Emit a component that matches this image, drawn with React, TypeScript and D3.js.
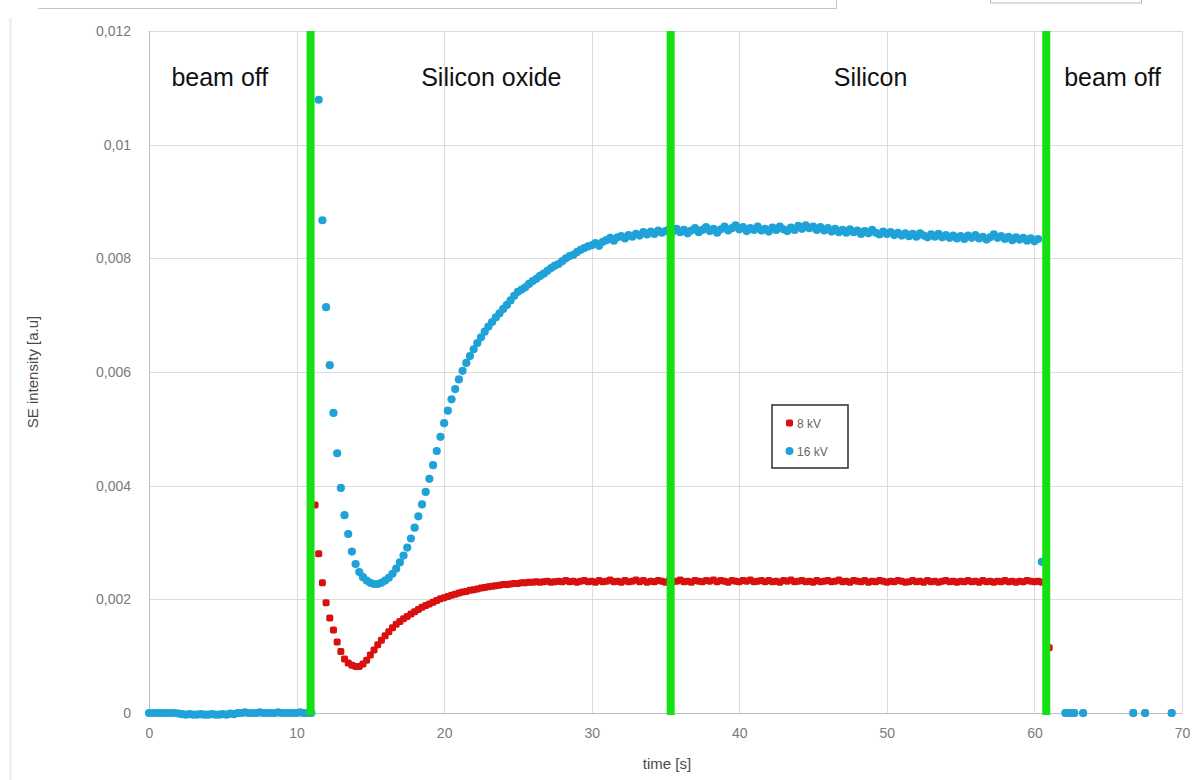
import React, { useEffect, useRef } from 'react';
import * as d3 from 'd3';

// samples every 0.25 s, starting at t = 0
const SAMPLE_STEP = 0.25;

// 16 kV series (SE intensity, a.u.), 8 samples per row = 2 s per row
const kv16: (number | null)[] = [
  0, 0, 0, 0, 0, 0, 0, 0, // 0
  -0.00001, -0.00002, -0.00003, -0.00002, -0.00003, -0.00003, -0.00002, -0.00003, // 2
  -0.00003, -0.00002, -0.00003, -0.00003, -0.00002, -0.00003, -0.00001, -0.00002, // 4
  0, 0, 0.00001, 0, 0, 0, 0.00001, 0, // 6
  0, 0, 0, 0.00001, 0, 0, 0, 0, // 8
  0, 0.00001, 0, 0, 0, null, 0.01079, 0.00867, // 10
  0.00714, 0.00612, 0.00528, 0.00457, 0.00396, 0.00348, 0.00315, 0.00284, // 12
  0.00262, 0.00248, 0.00239, 0.00233, 0.00229, 0.00227, 0.00227, 0.00229, // 14
  0.00233, 0.00238, 0.00245, 0.00254, 0.00265, 0.00277, 0.00291, 0.00307, // 16
  0.00326, 0.00346, 0.00367, 0.00389, 0.00412, 0.00436, 0.00461, 0.00486, // 18
  0.0051, 0.00532, 0.00552, 0.0057, 0.00587, 0.00602, 0.00616, 0.00628, // 20
  0.0064, 0.00651, 0.00661, 0.00671, 0.0068, 0.00688, 0.00696, 0.00703, // 22
  0.00711, 0.00718, 0.00726, 0.00734, 0.00741, 0.00745, 0.00749, 0.00755, // 24
  0.0076, 0.00764, 0.00769, 0.00773, 0.00778, 0.00783, 0.00787, 0.0079, // 26
  0.00795, 0.008, 0.00804, 0.00806, 0.00811, 0.00815, 0.00818, 0.00821, // 28
  0.00823, 0.00827, 0.00822, 0.00829, 0.00832, 0.00836, 0.00831, 0.00837, // 30
  0.00839, 0.00835, 0.00841, 0.00838, 0.00843, 0.0084, 0.00846, 0.00842, // 32
  0.00847, 0.00843, 0.00849, 0.00845, 0.00848, 0.00851, 0.00847, 0.00852, // 34
  0.00846, 0.0085, 0.00844, 0.00849, 0.00853, 0.00846, 0.0085, 0.00855, // 36
  0.00848, 0.00852, 0.00845, 0.00851, 0.00856, 0.00849, 0.00853, 0.00858, // 38
  0.00851, 0.00855, 0.00848, 0.00853, 0.0085, 0.00856, 0.00849, 0.00852, // 40
  0.00847, 0.00854, 0.0085, 0.00856, 0.00851, 0.00848, 0.00854, 0.0085, // 42
  0.00857, 0.00852, 0.00858, 0.00853, 0.00856, 0.0085, 0.00855, 0.00849, // 44
  0.00853, 0.00847, 0.00852, 0.00846, 0.0085, 0.00845, 0.00851, 0.00846, // 46
  0.00849, 0.00843, 0.00848, 0.00844, 0.0085, 0.00845, 0.00842, 0.00847, // 48
  0.00843, 0.00846, 0.00841, 0.00845, 0.0084, 0.00844, 0.00839, 0.00843, // 50
  0.00838, 0.00844, 0.0084, 0.00837, 0.00842, 0.00838, 0.00843, 0.00837, // 52
  0.00841, 0.00836, 0.0084, 0.00835, 0.00839, 0.00834, 0.0084, 0.00836, // 54
  0.00841, 0.00835, 0.00838, 0.00833, 0.00837, 0.00842, 0.00836, 0.00839, // 56
  0.00834, 0.00838, 0.00832, 0.00837, 0.00833, 0.00836, 0.00831, 0.00835, // 58
  0.0083, 0.00834, 0.00266, null, // 60
];

// 8 kV series, same sampling (nothing visible while the beam is off)
const kv8: (number | null)[] = [
  null, null, null, null, null, null, null, null, // 0
  null, null, null, null, null, null, null, null, // 2
  null, null, null, null, null, null, null, null, // 4
  null, null, null, null, null, null, null, null, // 6
  null, null, null, null, null, null, null, null, // 8
  null, null, null, null, null, 0.00366, 0.0028, 0.00229, // 10
  0.00194, 0.00167, 0.00146, 0.00125, 0.00108, 0.00095, 0.00088, 0.00084, // 12
  0.00082, 0.00082, 0.00086, 0.00093, 0.00102, 0.00111, 0.0012, 0.00128, // 14
  0.00136, 0.00143, 0.0015, 0.00156, 0.00161, 0.00166, 0.0017, 0.00174, // 16
  0.00178, 0.00182, 0.00186, 0.00189, 0.00192, 0.00195, 0.00198, 0.00201, // 18
  0.00203, 0.00205, 0.00207, 0.00209, 0.00211, 0.00213, 0.00214, 0.00216, // 20
  0.00217, 0.00218, 0.0022, 0.00221, 0.00222, 0.00223, 0.00224, 0.00225, // 22
  0.00226, 0.00226, 0.00227, 0.00228, 0.00228, 0.00229, 0.00229, 0.0023, // 24
  0.0023, 0.00231, 0.0023, 0.00231, 0.00232, 0.0023, 0.00231, 0.00232, // 26
  0.00231, 0.00233, 0.00231, 0.00232, 0.0023, 0.00232, 0.00233, 0.00231, // 28
  0.00232, 0.0023, 0.00233, 0.00231, 0.00232, 0.00234, 0.00231, 0.00232, // 30
  0.0023, 0.00233, 0.00231, 0.00232, 0.00234, 0.00231, 0.00233, 0.0023, // 32
  0.00232, 0.00231, 0.00233, 0.00232, 0.0023, 0.00233, 0.00231, 0.00232, // 34
  0.00234, 0.00231, 0.00232, 0.0023, 0.00233, 0.00232, 0.00231, 0.00233, // 36
  0.00232, 0.00234, 0.00231, 0.00233, 0.00232, 0.0023, 0.00233, 0.00232, // 38
  0.00231, 0.00233, 0.00232, 0.00234, 0.00231, 0.00232, 0.00233, 0.00231, // 40
  0.00233, 0.00231, 0.00232, 0.0023, 0.00233, 0.00232, 0.00234, 0.00231, // 42
  0.00232, 0.00233, 0.00231, 0.00232, 0.0023, 0.00233, 0.00231, 0.00232, // 44
  0.00233, 0.00231, 0.00232, 0.00234, 0.00231, 0.00232, 0.0023, 0.00233, // 46
  0.00232, 0.00231, 0.00233, 0.0023, 0.00232, 0.00231, 0.00233, 0.00232, // 48
  0.0023, 0.00232, 0.00231, 0.00233, 0.00232, 0.0023, 0.00231, 0.00233, // 50
  0.00231, 0.00232, 0.0023, 0.00233, 0.00231, 0.00232, 0.0023, 0.00232, // 52
  0.00233, 0.00231, 0.00232, 0.0023, 0.00232, 0.00231, 0.00233, 0.00231, // 54
  0.00232, 0.0023, 0.00233, 0.00231, 0.00232, 0.0023, 0.00232, 0.00231, // 56
  0.00233, 0.00231, 0.00232, 0.0023, 0.00232, 0.00231, 0.00233, 0.00232, // 58
  0.00231, 0.00232, 0.0023, null, 0.00115, // 60
];

// sparse points recorded after the beam was switched off again
const tailTimes = [62.1, 62.4, 62.7, 63.3, 66.7, 67.5, 69.3];
const tail16 = [0, 0, 0, 0, 0, 0, 0];
const tail8 = [0, 0, 0, 0, 0, 0, 0];

const boundaries = [10.95, 35.35, 60.8];
const regionNames = ['beam off', 'Silicon oxide', 'Silicon', 'beam off'];
const regionCenters = [4.8, 23.2, 48.9, 65.3];

const xTicks = [0, 10, 20, 30, 40, 50, 60, 70];
const yTicks = [0, 0.002, 0.004, 0.006, 0.008, 0.01, 0.012];
const seriesNames = ['8 kV', '16 kV'];

const RED = '#d81010';
const CYAN = '#1fa2d8';
const GREEN = '#14e014';

type Pt = { t: number; v: number };

const toPoints = (vals: (number | null)[], tt: number[], tv: number[]): Pt[] => {
  const pts: Pt[] = [];
  vals.forEach((v, i) => {
    if (v != null) pts.push({ t: i * SAMPLE_STEP, v });
  });
  tt.forEach((t, i) => pts.push({ t, v: tv[i] }));
  return pts;
};

const fmtY = (d: number) => (d === 0 ? '0' : String(+d.toFixed(3)).replace('.', ','));

const App: React.FC = () => {
  const svgRef = useRef<SVGSVGElement | null>(null);

  useEffect(() => {
    const svgEl = svgRef.current;
    if (!svgEl) return;
    const width = 1197;
    const height = 780;
    const margin = { top: 31, right: 15, bottom: 67, left: 149 };

    const x = d3.scaleLinear().domain([0, 70]).range([margin.left, width - margin.right]);
    const y = d3.scaleLinear().domain([0, 0.012]).range([height - margin.bottom, margin.top]);

    const svg = d3.select(svgEl).attr('width', width).attr('height', height);
    svg.selectAll('*').remove();
    const font = '"Liberation Sans", Arial, sans-serif';

    svg.append('rect').attr('width', width).attr('height', height).attr('fill', '#fff');

    // bits of the host window at the top
    svg.append('path').attr('d', 'M38,8.5H836.5V0').attr('fill', 'none').attr('stroke', '#c4c4c4');
    svg.append('rect').attr('x', 990.5).attr('y', -1).attr('width', 151).attr('height', 4)
      .attr('fill', 'none').attr('stroke', '#b8b8b8');
    svg.append('line').attr('x1', 10.5).attr('x2', 10.5).attr('y1', 18).attr('y2', 780)
      .attr('stroke', '#f0f0f0').attr('stroke-width', 3);

    // gridlines
    const grid = svg.append('g');
    grid.selectAll('line.h')
      .data(yTicks.filter((d) => d > 0))
      .join('line')
      .attr('x1', x(0)).attr('x2', x(70))
      .attr('y1', (d) => Math.round(y(d)) + 0.5).attr('y2', (d) => Math.round(y(d)) + 0.5)
      .attr('stroke', '#dcdcdc');
    grid.selectAll('line.v')
      .data(xTicks.filter((d) => d > 0))
      .join('line')
      .attr('x1', (d) => Math.round(x(d)) + 0.5).attr('x2', (d) => Math.round(x(d)) + 0.5)
      .attr('y1', y(0.012)).attr('y2', y(0))
      .attr('stroke', '#dcdcdc');

    // axis lines
    svg.append('line').attr('x1', x(0) + 0.5).attr('x2', x(0) + 0.5)
      .attr('y1', y(0.012)).attr('y2', y(0)).attr('stroke', '#bfbfbf');
    svg.append('line').attr('x1', x(0)).attr('x2', x(70))
      .attr('y1', Math.round(y(0)) + 0.5).attr('y2', Math.round(y(0)) + 0.5).attr('stroke', '#bfbfbf');

    // tick labels
    svg.append('g')
      .attr('transform', `translate(${x(0)},0)`)
      .call(d3.axisLeft(y).tickValues(yTicks).tickSize(0).tickPadding(18).tickFormat((d) => fmtY(+d)))
      .call((g) => g.select('.domain').remove())
      .call((g) => g.selectAll('text').attr('fill', '#7a7a7a').attr('font-size', 14).attr('font-family', font));
    svg.append('g')
      .attr('transform', `translate(0,${y(0)})`)
      .call(d3.axisBottom(x).tickValues(xTicks).tickSize(0).tickPadding(15).tickFormat((d) => String(d)))
      .call((g) => g.select('.domain').remove())
      .call((g) => g.selectAll('text').attr('fill', '#7a7a7a').attr('font-size', 14).attr('font-family', font));

    // axis titles
    svg.append('text')
      .attr('x', 667).attr('y', 769)
      .attr('text-anchor', 'middle')
      .attr('font-family', font).attr('font-size', 15).attr('fill', '#4a4a4a')
      .text('time [s]');
    svg.append('text')
      .attr('transform', `translate(38,${(y(0) + y(0.012)) / 2}) rotate(-90)`)
      .attr('text-anchor', 'middle')
      .attr('font-family', font).attr('font-size', 15).attr('fill', '#4a4a4a')
      .text('SE intensity [a.u]');

    // data
    const pts8 = toPoints(kv8, tailTimes, tail8);
    const pts16 = toPoints(kv16, tailTimes, tail16);
    svg.append('g').selectAll('rect')
      .data(pts8)
      .join('rect')
      .attr('x', (d) => x(d.t) - 3.5).attr('y', (d) => y(d.v) - 3.5)
      .attr('width', 7).attr('height', 7).attr('rx', 1.8)
      .attr('fill', RED);
    svg.append('g').selectAll('circle')
      .data(pts16)
      .join('circle')
      .attr('cx', (d) => x(d.t)).attr('cy', (d) => y(d.v))
      .attr('r', 4.1)
      .attr('fill', CYAN);

    // region boundaries
    svg.append('g').selectAll('line')
      .data(boundaries)
      .join('line')
      .attr('x1', (d) => x(d)).attr('x2', (d) => x(d))
      .attr('y1', y(0.012)).attr('y2', y(0) + 2)
      .attr('stroke', GREEN).attr('stroke-width', 8);

    // region labels
    svg.append('g').selectAll('text')
      .data(regionNames)
      .join('text')
      .attr('x', (_, i) => x(regionCenters[i]))
      .attr('y', 86)
      .attr('text-anchor', 'middle')
      .attr('font-family', font).attr('font-size', 25).attr('fill', '#111')
      .text((d) => d);

    // legend
    const lg = svg.append('g').attr('transform', 'translate(772,405)');
    lg.append('rect').attr('width', 76).attr('height', 63)
      .attr('fill', '#fff').attr('stroke', '#3a3a3a').attr('stroke-width', 1.6);
    seriesNames.forEach((name, i) => {
      const cy = 18 + i * 28;
      if (i === 0) {
        lg.append('rect').attr('x', 14).attr('y', cy - 3.5).attr('width', 7).attr('height', 7)
          .attr('rx', 1.8).attr('fill', RED);
      } else {
        lg.append('circle').attr('cx', 17.5).attr('cy', cy).attr('r', 4).attr('fill', CYAN);
      }
      lg.append('text').attr('x', 25).attr('y', cy + 4.5)
        .attr('font-family', font).attr('font-size', 12).attr('fill', '#666')
        .text(name);
    });
  }, []);

  return (
    <div style={{ position: 'fixed', left: 0, top: 0 }}>
      <svg ref={svgRef} role="img" aria-label="SE intensity over time" />
    </div>
  );
};

export default App;
